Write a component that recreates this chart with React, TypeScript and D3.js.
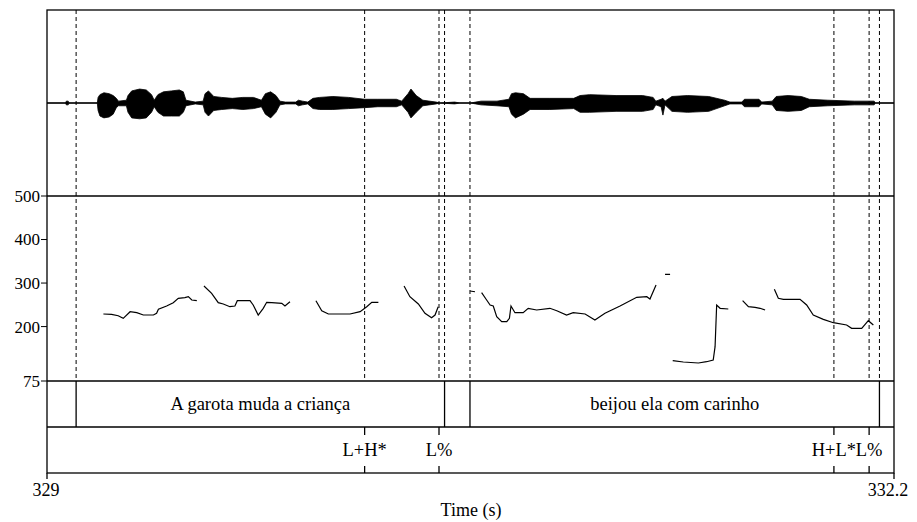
import React, { useEffect, useRef } from "react";
import * as d3 from "d3";

// waveform envelope (s, upper / lower amplitude, relative to full scale)
const waveTimes = [
  329.0, 329.07, 329.073, 329.08, 329.083, 329.19, 329.193, 329.2, 329.215, 329.235, 329.25, 329.262,
  329.27, 329.3, 329.306, 329.32, 329.35, 329.375, 329.395, 329.405, 329.419, 329.44, 329.47, 329.5,
  329.515, 329.525, 329.56, 329.59, 329.597, 329.61, 329.63, 329.66, 329.7, 329.74, 329.78, 329.81,
  329.825, 329.845, 329.865, 329.88, 329.9, 329.94, 329.95, 329.965, 329.985, 330.005, 330.03, 330.08,
  330.14, 330.2, 330.25, 330.32, 330.34, 330.364, 330.375, 330.395, 330.42, 330.47, 330.485, 330.54,
  330.56, 330.6, 330.62, 330.64, 330.7, 330.745, 330.755, 330.77, 330.8, 330.825, 330.9, 330.99,
  331.014, 331.05, 331.15, 331.25, 331.29, 331.3, 331.32, 331.327, 331.335, 331.361, 331.42, 331.5,
  331.56, 331.58, 331.625, 331.635, 331.69, 331.7, 331.74, 331.755, 331.8, 331.85, 331.88, 331.95,
  332.05, 332.125, 332.13, 332.2,
];
const waveUpper = [
  0, 0, 0.02, 0.02, 0, 0, 0.06, 0.09, 0.11, 0.1, 0.08, 0.05,
  0.02, 0.03, 0.08, 0.13, 0.15, 0.14, 0.09, 0.03, 0.09, 0.12, 0.13, 0.14,
  0.12, 0.03, 0.01, 0.02, 0.1, 0.13, 0.07, 0.06, 0.05, 0.06, 0.06, 0.03,
  0.1, 0.12, 0.08, 0.02, 0.01, 0.01, 0.03, 0.02, 0.01, 0.05, 0.06, 0.07,
  0.06, 0.04, 0.04, 0.04, 0.02, 0.1, 0.15, 0.08, 0.03, 0.01, 0, 0.01,
  0, 0, 0.01, 0.02, 0.02, 0.04, 0.1, 0.11, 0.1, 0.05, 0.05, 0.05,
  0.08, 0.09, 0.08, 0.08, 0.06, 0.02, 0.04, 0.05, 0.02, 0.07, 0.08, 0.07,
  0.03, 0.01, 0.01, 0.04, 0.04, 0.01, 0.02, 0.07, 0.08, 0.07, 0.04, 0.03,
  0.02, 0.02, 0, 0,
];
const waveLower = [
  0, 0, 0.02, 0.02, 0, 0, 0.08, 0.14, 0.16, 0.15, 0.12, 0.05,
  0.03, 0.03, 0.1, 0.16, 0.17, 0.16, 0.1, 0.04, 0.1, 0.14, 0.14, 0.14,
  0.1, 0.03, 0.01, 0.02, 0.1, 0.14, 0.08, 0.07, 0.06, 0.07, 0.06, 0.04,
  0.12, 0.16, 0.1, 0.02, 0.01, 0.01, 0.03, 0.02, 0.01, 0.06, 0.07, 0.07,
  0.06, 0.05, 0.04, 0.04, 0.02, 0.1, 0.16, 0.1, 0.03, 0.01, 0, 0.01,
  0, 0, 0.01, 0.02, 0.03, 0.04, 0.12, 0.16, 0.12, 0.07, 0.07, 0.06,
  0.1, 0.1, 0.09, 0.09, 0.07, 0.02, 0.04, 0.13, 0.02, 0.09, 0.1, 0.09,
  0.03, 0.01, 0.01, 0.04, 0.04, 0.01, 0.02, 0.08, 0.09, 0.08, 0.04, 0.03,
  0.02, 0.02, 0, 0,
];

// pitch track (s, Hz); null = unvoiced gap
const pitchTimes = [
  329.213, 329.244, 329.269, 329.288, 329.314, 329.339, 329.364, 329.402, 329.414, 329.421, 329.452,
  329.477, 329.496, 329.521, 329.534, 329.547, 329.566, null,
  329.593, 329.622, 329.647, 329.666, 329.691, 329.71, 329.719, 329.767, 329.779, 329.798, 329.817,
  329.83, 329.849, 329.887, 329.899, 329.918, null,
  330.016, 330.038, 330.063, 330.145, 330.183, 330.208, 330.227, 330.252, null,
  330.349, 330.371, 330.403, 330.428, 330.453, 330.466, 330.478, null,
  330.598, 330.617, null,
  330.642, 330.661, 330.674, 330.686, 330.699, 330.718, 330.737, 330.747, 330.753, 330.768, 330.799,
  330.818, 330.85, 330.9, 330.926, 330.963, 330.988, 331.033, 331.07, 331.108, 331.165, 331.228,
  331.266, 331.278, 331.301, null,
  331.335, 331.354, null,
  331.364, 331.404, 331.461, 331.492, 331.517, 331.524, 331.53, 331.543, 331.574, null,
  331.628, 331.65, 331.675, 331.694, 331.713, null,
  331.748, 331.763, 331.782, 331.845, 331.87, 331.895, 331.933, 331.971, 332.021, 332.04, 332.078,
  332.103, 332.122,
];
const pitchHz = [
  228.9, 228.2, 225, 219, 234.2, 231.9, 226.6, 226.6, 230.5, 239.7, 247.3,
  254.9, 265, 266.4, 268.7, 261.1, 259.5, null,
  293.2, 276.5, 254.9, 251.9, 245.7, 247.3, 259.5, 259.5, 249.6, 226.6, 242,
  255.8, 254.9, 253.5, 247.3, 257.2, null,
  259.5, 236.5, 228.9, 228.9, 234.2, 245.7, 255.8, 255.8, null,
  293.2, 268.7, 251.9, 230.5, 220.4, 226.6, 245.7, null,
  281.8, 280.1, null,
  277.9, 261.1, 249.6, 247.3, 222.7, 211.2, 211.2, 219, 247.3, 231.9, 231.9,
  242, 238.1, 242, 236.5, 226.6, 231.9, 228.9, 215.1, 230.5, 247.3, 267.3,
  268.7, 263.4, 295.5, null,
  320.1, 320.1, null,
  121.6, 118.6, 116.4, 119.3, 123.2, 153.8, 249.6, 242, 240.4, null,
  259.5, 245.7, 244.3, 242, 238.1, null,
  285.7, 265, 262.7, 262.7, 249.6, 226.6, 216.7, 208.9, 203.6, 196, 196,
  213.5, 203.6,
];
const pitchTicks = [500, 400, 300, 200, 75];

// text tier
const wordStarts = [329.11, 330.598];
const wordEnds = [330.502, 332.145];
const wordLabels = ["A garota muda a criança", "beijou ela com carinho"];

// tone tier
const toneTimes = [330.2, 330.481, 331.973, 332.106];
const toneLabels = ["L+H*", "L%", "H+L*", "L%"];

const timeTicks = [329, 332.2];

export default function App() {
  const ref = useRef<SVGSVGElement>(null);

  useEffect(() => {
    const svg = d3.select(ref.current);
    svg.selectAll("*").remove();

    const left = 47;
    const right = 894;
    const top = 10;
    const waveBottom = 196;
    const pitchBottom = 381;
    const textBottom = 427;
    const toneBottom = 473;
    const font = "Liberation Serif, DejaVu Serif, serif";

    const x = d3.scaleLinear().domain([329, 332.2]).range([left, right]);
    const yWave = d3.scaleLinear().domain([-1, 1]).range([waveBottom, top]);
    const yPitch = d3.scaleLinear().domain([75, 500]).range([pitchBottom, waveBottom]);

    // dashed guides through waveform + pitch panels
    const guides = [...wordStarts, ...wordEnds, ...toneTimes];
    svg
      .append("g")
      .selectAll("line")
      .data(guides)
      .enter()
      .append("line")
      .attr("x1", d => x(d))
      .attr("x2", d => x(d))
      .attr("y1", top)
      .attr("y2", pitchBottom)
      .attr("stroke", "#000")
      .attr("stroke-width", 1)
      .attr("stroke-dasharray", "4,3");

    // waveform
    svg
      .append("line")
      .attr("x1", left)
      .attr("x2", right)
      .attr("y1", yWave(0))
      .attr("y2", yWave(0))
      .attr("stroke", "#000")
      .attr("stroke-width", 1);

    const area = d3
      .area<number>()
      .x(i => x(waveTimes[i]))
      .y0(i => yWave(-waveLower[i]))
      .y1(i => yWave(waveUpper[i]));
    svg
      .append("path")
      .datum(d3.range(waveTimes.length))
      .attr("d", area)
      .attr("fill", "#000")
      .attr("stroke", "#000")
      .attr("stroke-width", 0.8);

    // pitch
    const line = d3
      .line<number>()
      .defined(i => pitchTimes[i] != null && pitchHz[i] != null)
      .x(i => x(pitchTimes[i] as number))
      .y(i => yPitch(pitchHz[i] as number));
    svg
      .append("path")
      .datum(d3.range(pitchTimes.length))
      .attr("d", line)
      .attr("fill", "none")
      .attr("stroke", "#000")
      .attr("stroke-width", 1.2);

    // frame + tier lines
    const frame = svg.append("g").attr("stroke", "#000").attr("stroke-width", 1.3);
    frame.append("rect")
      .attr("x", left)
      .attr("y", top)
      .attr("width", right - left)
      .attr("height", toneBottom - top)
      .attr("fill", "none");
    [waveBottom, pitchBottom, textBottom].forEach(y => {
      frame.append("line").attr("x1", left).attr("x2", right).attr("y1", y).attr("y2", y);
    });

    const txt = (g: d3.Selection<SVGGElement, unknown, null, undefined>, size: number) =>
      g.style("font-family", font).style("font-size", size + "px").attr("fill", "#000");

    // pitch axis
    const yAxis = txt(svg.append("g"), 17);
    pitchTicks.forEach(v => {
      yAxis.append("line")
        .attr("x1", left - 6)
        .attr("x2", left)
        .attr("y1", yPitch(v))
        .attr("y2", yPitch(v))
        .attr("stroke", "#000");
      yAxis.append("text")
        .attr("x", left - 7)
        .attr("y", yPitch(v))
        .attr("dy", "0.35em")
        .attr("text-anchor", "end")
        .text(v);
    });

    // text tier
    const words = txt(svg.append("g"), 18.5);
    wordLabels.forEach((label, i) => {
      [wordStarts[i], wordEnds[i]].forEach(t => {
        words.append("line")
          .attr("x1", x(t))
          .attr("x2", x(t))
          .attr("y1", pitchBottom)
          .attr("y2", textBottom)
          .attr("stroke", "#000")
          .attr("stroke-width", 1.3);
      });
      words.append("text")
        .attr("x", (x(wordStarts[i]) + x(wordEnds[i])) / 2)
        .attr("y", (pitchBottom + textBottom) / 2)
        .attr("dy", "0.3em")
        .attr("text-anchor", "middle")
        .text(label);
    });

    // tone tier
    const tones = txt(svg.append("g"), 18.5);
    toneLabels.forEach((label, i) => {
      const tx = x(toneTimes[i]);
      tones.append("line")
        .attr("x1", tx).attr("x2", tx)
        .attr("y1", textBottom).attr("y2", textBottom + 8)
        .attr("stroke", "#000").attr("stroke-width", 1.3);
      tones.append("line")
        .attr("x1", tx).attr("x2", tx)
        .attr("y1", toneBottom - 7).attr("y2", toneBottom)
        .attr("stroke", "#000").attr("stroke-width", 1.3);
      tones.append("text")
        .attr("x", tx)
        .attr("y", (textBottom + toneBottom) / 2)
        .attr("dy", "0.33em")
        .attr("text-anchor", "middle")
        .text(label);
    });

    // time axis
    const xAxis = txt(svg.append("g"), 18);
    timeTicks.forEach(t => {
      xAxis.append("line")
        .attr("x1", x(t)).attr("x2", x(t))
        .attr("y1", toneBottom).attr("y2", toneBottom + 6)
        .attr("stroke", "#000").attr("stroke-width", 1.3);
      xAxis.append("text")
        .attr("x", x(t) - (t === timeTicks[0] ? 1 : 6))
        .attr("y", toneBottom + 23)
        .attr("text-anchor", "middle")
        .text(t);
    });
    xAxis.append("text")
      .attr("x", 471)
      .attr("y", 516)
      .attr("text-anchor", "middle")
      .text("Time (s)");
  }, []);

  return (
    <svg
      ref={ref}
      width={917}
      height={522}
      style={{ position: "absolute", left: 0, top: 0, background: "#fff" }}
    />
  );
}
